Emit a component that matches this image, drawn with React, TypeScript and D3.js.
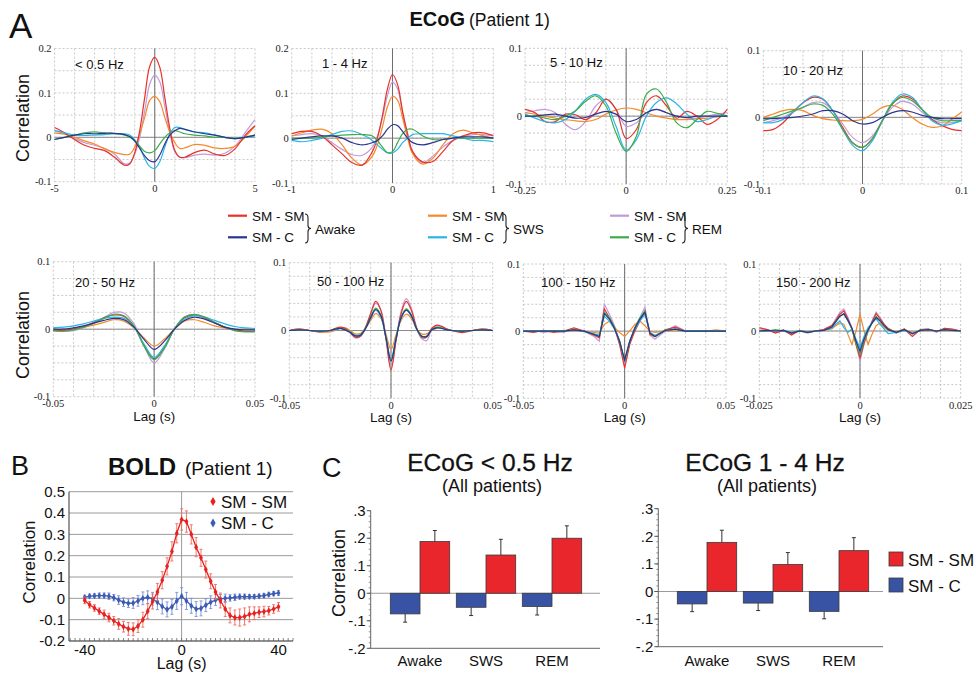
import React from 'react';
import * as d3 from 'd3';

const SANS = '"Liberation Sans", Arial, sans-serif';
const SERIF = '"Liberation Serif", "Times New Roman", serif';

// line colours for the six ECoG traces
const colAwakeSM = '#e8312b';
const colAwakeC = '#2b3590';
const colSwsSM = '#f58a2c';
const colSwsC = '#29b5e6';
const colRemSM = '#c29ad8';
const colRemC = '#3cad48';

// ---- ECoG cross-correlation, patient 1 ----
// < 0.5 Hz
const b0Lag = [-5, -4.5, -4, -3.5, -3, -2.5, -2, -1.5, -1.25, -1, -0.75, -0.5, -0.25, 0, 0.25, 0.5, 0.75, 1, 1.25, 1.5, 2, 2.5, 3, 3.5, 4, 4.5, 5];
const b0AwakeSM = [0.022, 0.01, -0.005, -0.018, -0.025, -0.03, -0.045, -0.063, -0.06, -0.035, 0.015, 0.09, 0.16, 0.18, 0.158, 0.09, 0.02, -0.03, -0.045, -0.045, -0.034, -0.029, -0.038, -0.041, -0.026, 0.004, 0.026];
const b0AwakeC = [-0.005, 0.0, 0.005, 0.008, 0.008, 0.009, 0.009, 0.006, 0.002, -0.008, -0.025, -0.042, -0.053, -0.055, -0.04, -0.015, 0.005, 0.015, 0.02, 0.018, 0.012, 0.008, 0.005, 0.0, -0.003, 0.0, 0.005];
const b0SwsSM = [0.01, 0.007, 0.0, -0.008, -0.015, -0.026, -0.034, -0.039, -0.038, -0.022, 0.008, 0.045, 0.083, 0.092, 0.08, 0.045, 0.012, -0.012, -0.025, -0.024, -0.016, -0.018, -0.024, -0.025, -0.02, 0.0, 0.025];
const b0SwsC = [0.015, 0.01, 0.005, 0.004, 0.005, 0.006, 0.008, 0.008, 0.005, -0.005, -0.022, -0.048, -0.066, -0.07, -0.055, -0.022, 0.008, 0.022, 0.022, 0.018, 0.012, 0.01, 0.005, 0.0, -0.003, 0.0, 0.003];
const b0RemSM = [0.015, 0.008, -0.003, -0.012, -0.018, -0.025, -0.038, -0.06, -0.058, -0.038, 0.0, 0.06, 0.12, 0.14, 0.125, 0.07, 0.01, -0.032, -0.045, -0.046, -0.04, -0.038, -0.04, -0.036, -0.02, 0.01, 0.04];
const b0RemC = [-0.005, 0.0, 0.005, 0.01, 0.012, 0.01, 0.008, 0.005, 0.0, -0.008, -0.02, -0.032, -0.035, -0.03, -0.015, 0.0, 0.01, 0.015, 0.012, 0.008, 0.005, 0.003, 0.0, 0.0, -0.003, 0.0, 0.005];

// 1 - 4 Hz
const b1Lag = [-1, -0.9, -0.8, -0.7, -0.6, -0.5, -0.4, -0.3, -0.2, -0.15, -0.1, -0.05, 0, 0.05, 0.1, 0.15, 0.2, 0.3, 0.4, 0.5, 0.6, 0.7, 0.8, 0.9, 1];
const b1AwakeSM = [0.01, 0.015, 0.015, 0.005, -0.015, -0.035, -0.055, -0.06, -0.03, 0.0, 0.05, 0.11, 0.142, 0.12, 0.06, 0.01, -0.03, -0.053, -0.052, -0.03, -0.005, 0.005, 0.012, 0.012, 0.006];
const b1AwakeC = [-0.003, 0.0, 0.003, 0.005, 0.005, 0.0, -0.01, -0.015, -0.01, -0.005, 0.005, 0.02, 0.03, 0.028, 0.015, 0.0, -0.01, -0.015, -0.01, -0.003, 0.0, 0.003, 0.003, 0.003, 0.0];
const b1SwsSM = [0.005, 0.012, 0.018, 0.02, 0.01, -0.015, -0.045, -0.06, -0.04, -0.015, 0.025, 0.07, 0.093, 0.085, 0.045, 0.0, -0.035, -0.058, -0.045, -0.015, 0.01, 0.018, 0.012, 0.005, 0.0];
const b1SwsC = [-0.005, -0.008, -0.005, 0.0, 0.008, 0.015, 0.016, 0.008, -0.005, -0.015, -0.025, -0.033, -0.033, -0.025, -0.01, 0.0, 0.008, 0.01, 0.01, 0.01, 0.005, 0.0, -0.005, -0.005, -0.008];
const b1RemSM = [0.005, 0.008, 0.01, 0.005, -0.01, -0.025, -0.037, -0.038, -0.02, 0.005, 0.045, 0.095, 0.125, 0.11, 0.055, 0.005, -0.03, -0.055, -0.04, -0.02, -0.005, 0.003, 0.008, 0.008, 0.005];
const b1RemC = [0.0, 0.0, 0.0, 0.002, 0.005, 0.007, 0.008, 0.008, 0.005, -0.005, -0.02, -0.032, -0.03, -0.01, 0.01, 0.02, 0.02, 0.005, -0.003, -0.003, 0.0, 0.0, 0.0, 0.0, 0.0];

// 5 - 10 Hz
const b2Lag = [-0.25, -0.225, -0.2, -0.175, -0.15, -0.125, -0.1, -0.075, -0.05, -0.025, 0, 0.025, 0.05, 0.075, 0.1, 0.125, 0.15, 0.175, 0.2, 0.225, 0.25];
const b2AwakeSM = [0.01, 0.005, -0.008, -0.008, 0.003, 0.002, -0.005, 0.005, 0.025, 0.01, -0.033, -0.02, 0.02, 0.03, 0.015, -0.003, 0.007, 0.0, -0.012, -0.005, 0.01];
const b2AwakeC = [0.0, 0.0, 0.002, 0.003, 0.0, -0.003, -0.002, 0.003, 0.007, 0.003, -0.008, -0.005, 0.005, 0.01, 0.005, 0.0, -0.002, 0.0, 0.0, 0.0, 0.0];
const b2SwsSM = [0.005, 0.003, 0.0, -0.003, -0.005, -0.007, -0.008, -0.005, 0.003, 0.009, 0.012, 0.01, 0.005, 0.0, -0.003, -0.005, -0.005, -0.004, -0.003, -0.001, 0.0];
const b2SwsC = [0.003, -0.003, -0.008, -0.01, -0.005, 0.008, 0.025, 0.032, 0.02, -0.015, -0.05, -0.035, 0.0, 0.02, 0.027, 0.018, 0.003, -0.008, -0.005, 0.0, 0.0];
const b2RemSM = [0.005, 0.008, 0.01, 0.005, -0.012, -0.02, -0.008, 0.015, 0.025, 0.01, -0.015, -0.01, 0.005, 0.01, 0.005, 0.0, -0.003, -0.003, 0.0, 0.003, 0.005];
const b2RemC = [0.0, 0.0, -0.003, -0.005, 0.0, 0.008, 0.022, 0.03, 0.015, -0.025, -0.052, -0.03, 0.032, 0.04, 0.02, -0.01, -0.017, -0.005, 0.007, 0.004, 0.0];

// 10 - 20 Hz
const b3Lag = [-0.1, -0.09, -0.08, -0.07, -0.06, -0.05, -0.04, -0.03, -0.02, -0.01, 0, 0.01, 0.02, 0.03, 0.04, 0.05, 0.06, 0.07, 0.08, 0.09, 0.1];
const b3AwakeSM = [-0.02, -0.018, -0.008, 0.008, 0.022, 0.03, 0.027, 0.01, -0.015, -0.038, -0.045, -0.032, -0.005, 0.02, 0.032, 0.028, 0.012, -0.003, -0.012, -0.018, -0.02];
const b3AwakeC = [-0.002, -0.002, -0.001, 0.0, 0.002, 0.005, 0.01, 0.01, 0.005, -0.005, -0.01, -0.008, 0.0, 0.007, 0.01, 0.008, 0.003, 0.0, -0.002, -0.002, -0.002];
const b3SwsSM = [0.0, 0.005, 0.01, 0.012, 0.01, 0.003, -0.002, -0.004, -0.005, -0.005, -0.003, 0.005, 0.015, 0.018, 0.012, 0.0, -0.01, -0.015, -0.013, -0.003, 0.008];
const b3SwsC = [-0.008, -0.008, -0.003, 0.008, 0.022, 0.032, 0.028, 0.01, -0.018, -0.042, -0.05, -0.035, -0.005, 0.022, 0.035, 0.03, 0.012, -0.005, -0.012, -0.01, -0.005];
const b3RemSM = [-0.008, -0.005, 0.0, 0.008, 0.015, 0.022, 0.022, 0.01, -0.01, -0.03, -0.038, -0.028, -0.005, 0.015, 0.024, 0.02, 0.008, -0.003, -0.008, -0.008, -0.005];
const b3RemC = [-0.005, 0.0, 0.005, 0.01, 0.015, 0.02, 0.018, 0.005, -0.018, -0.038, -0.045, -0.032, -0.005, 0.02, 0.03, 0.025, 0.012, 0.0, -0.005, -0.005, -0.005];

// 20 - 50 Hz
const b4Lag = [-0.05, -0.045, -0.04, -0.035, -0.03, -0.025, -0.02, -0.015, -0.01, -0.005, 0, 0.005, 0.01, 0.015, 0.02, 0.025, 0.03, 0.035, 0.04, 0.045, 0.05];
const b4AwakeSM = [-0.002, -0.002, 0.0, 0.004, 0.01, 0.017, 0.021, 0.019, 0.004, -0.024, -0.044, -0.027, 0.0, 0.017, 0.021, 0.017, 0.01, 0.003, -0.001, -0.003, -0.003];
const b4AwakeC = [0.0, 0.0, 0.002, 0.005, 0.009, 0.013, 0.016, 0.014, 0.003, -0.015, -0.03, -0.018, 0.0, 0.013, 0.018, 0.015, 0.009, 0.003, 0.0, -0.001, -0.001];
const b4SwsSM = [0.0, 0.0, 0.001, 0.003, 0.006, 0.01, 0.014, 0.012, 0.002, -0.013, -0.025, -0.015, 0.0, 0.012, 0.014, 0.01, 0.005, 0.002, 0.0, 0.0, 0.0];
const b4SwsC = [0.002, 0.003, 0.005, 0.008, 0.012, 0.016, 0.018, 0.016, 0.003, -0.022, -0.042, -0.025, 0.0, 0.015, 0.02, 0.018, 0.013, 0.008, 0.004, 0.002, 0.001];
const b4RemSM = [-0.002, -0.003, -0.002, 0.002, 0.008, 0.017, 0.025, 0.024, 0.008, -0.025, -0.05, -0.03, 0.0, 0.018, 0.022, 0.018, 0.01, 0.003, -0.002, -0.003, -0.003];
const b4RemC = [-0.002, -0.003, -0.001, 0.003, 0.009, 0.016, 0.022, 0.02, 0.005, -0.025, -0.045, -0.028, 0.0, 0.018, 0.022, 0.018, 0.01, 0.003, -0.002, -0.004, -0.004];

// 50 - 100 Hz
const b5Lag = [-0.05, -0.045, -0.04, -0.035, -0.03, -0.0275, -0.025, -0.0225, -0.02, -0.0175, -0.015, -0.0125, -0.01, -0.0075, -0.005, -0.0025, 0, 0.0025, 0.005, 0.0075, 0.01, 0.0125, 0.015, 0.0175, 0.02, 0.0225, 0.025, 0.0275, 0.03, 0.035, 0.04, 0.045, 0.05];
const b5AwakeSM = [0.0, 0.002, 0.0, -0.002, 0.0, 0.003, 0.005, 0.003, -0.003, -0.01, -0.008, 0.005, 0.025, 0.043, 0.03, -0.012, -0.058, -0.015, 0.025, 0.043, 0.03, 0.005, -0.01, -0.01, 0.003, 0.008, 0.006, 0.002, 0.0, -0.003, 0.0, 0.002, 0.0];
const b5AwakeC = [0.0, 0.001, 0.0, -0.001, 0.0, 0.002, 0.003, 0.001, -0.003, -0.008, -0.007, 0.003, 0.019, 0.031, 0.022, -0.01, -0.045, -0.012, 0.019, 0.03, 0.022, 0.003, -0.008, -0.009, 0.001, 0.004, 0.003, 0.001, 0.0, -0.001, 0.0, 0.001, 0.0];
const b5SwsSM = [0.0, 0.002, 0.0, -0.002, -0.002, 0.0, 0.003, 0.004, 0.0, -0.005, -0.004, 0.003, 0.015, 0.025, 0.018, -0.005, -0.028, -0.006, 0.015, 0.024, 0.018, 0.003, -0.005, -0.005, 0.0, 0.003, 0.004, 0.002, 0.0, -0.002, 0.0, 0.002, 0.0];
const b5SwsC = [0.0, 0.001, 0.0, -0.001, 0.0, 0.001, 0.003, 0.001, -0.002, -0.007, -0.006, 0.003, 0.018, 0.03, 0.02, -0.01, -0.042, -0.011, 0.018, 0.03, 0.021, 0.003, -0.008, -0.008, 0.001, 0.004, 0.003, 0.001, 0.0, -0.001, 0.0, 0.001, 0.0];
const b5RemSM = [0.0, 0.002, 0.0, -0.002, 0.0, 0.002, 0.004, 0.002, -0.004, -0.011, -0.009, 0.004, 0.024, 0.04, 0.03, -0.01, -0.055, -0.012, 0.028, 0.047, 0.033, 0.005, -0.012, -0.015, 0.001, 0.007, 0.005, 0.002, 0.0, -0.002, 0.0, 0.002, 0.0];
const b5RemC = [0.0, 0.001, 0.0, -0.001, 0.0, 0.002, 0.003, 0.001, -0.003, -0.008, -0.007, 0.004, 0.02, 0.033, 0.023, -0.01, -0.045, -0.012, 0.02, 0.032, 0.023, 0.003, -0.009, -0.009, 0.001, 0.005, 0.004, 0.001, 0.0, -0.001, 0.0, 0.001, 0.0];

// 100 - 150 Hz
const b6Lag = [-0.05, -0.045, -0.04, -0.035, -0.03, -0.025, -0.02, -0.015, -0.0125, -0.01, -0.0075, -0.005, -0.0025, 0, 0.0025, 0.005, 0.0075, 0.01, 0.0125, 0.015, 0.02, 0.025, 0.03, 0.035, 0.04, 0.045, 0.05];
const b6AwakeSM = [0.0, -0.002, 0.001, -0.002, 0.0, 0.005, 0.0, -0.006, -0.01, 0.033, 0.02, 0.005, -0.02, -0.055, -0.02, 0.0, 0.015, 0.03, -0.005, -0.008, 0.002, 0.006, 0.0, 0.0, 0.001, 0.0, 0.0];
const b6AwakeC = [0.0, 0.0, 0.0, 0.0, 0.0, 0.002, 0.0, -0.005, -0.008, 0.026, 0.018, 0.004, -0.015, -0.043, -0.015, 0.004, 0.018, 0.028, -0.003, -0.008, 0.001, 0.003, 0.0, 0.0, 0.0, 0.0, 0.0];
const b6SwsSM = [0.0, 0.0, 0.0, 0.0, 0.0, 0.001, 0.0, -0.002, -0.003, 0.01, 0.015, 0.005, -0.002, -0.008, 0.0, 0.01, 0.015, 0.008, 0.0, -0.002, 0.0, 0.002, 0.0, 0.0, 0.0, 0.002, 0.0];
const b6SwsC = [0.0, 0.0, 0.0, 0.0, 0.0, 0.002, 0.0, -0.004, -0.006, 0.022, 0.015, 0.003, -0.015, -0.045, -0.015, 0.003, 0.015, 0.025, -0.002, -0.006, 0.001, 0.003, 0.0, 0.0, 0.0, 0.0, 0.0];
const b6RemSM = [0.0, 0.001, -0.002, 0.0, -0.002, 0.004, 0.0, -0.008, -0.015, 0.04, 0.025, 0.008, -0.015, -0.05, -0.018, 0.005, 0.02, 0.036, -0.006, -0.012, 0.0, 0.008, 0.0, 0.001, 0.0, 0.001, 0.0];
const b6RemC = [0.0, 0.0, 0.0, 0.001, 0.0, 0.002, 0.0, -0.005, -0.008, 0.028, 0.02, 0.005, -0.015, -0.045, -0.015, 0.005, 0.02, 0.03, -0.003, -0.008, 0.002, 0.003, 0.0, 0.0, 0.0, 0.0, 0.0];

// 150 - 200 Hz
const b7Lag = [-0.025, -0.023, -0.021, -0.019, -0.017, -0.015, -0.013, -0.011, -0.009, -0.007, -0.006, -0.005, -0.004, -0.003, -0.002, -0.001, 0, 0.001, 0.002, 0.003, 0.004, 0.005, 0.006, 0.007, 0.009, 0.011, 0.013, 0.015, 0.017, 0.019, 0.021, 0.023, 0.025];
const b7AwakeSM = [0.005, 0.002, -0.003, 0.001, -0.006, 0.001, -0.002, 0.0, 0.002, 0.008, 0.016, 0.025, 0.03, 0.018, 0.003, -0.02, -0.04, -0.018, 0.0, 0.014, 0.026, 0.018, 0.01, 0.004, -0.003, 0.003, -0.008, 0.002, 0.003, -0.001, 0.004, 0.003, 0.0];
const b7AwakeC = [0.0, 0.001, 0.0, 0.001, -0.003, 0.0, -0.002, 0.0, 0.001, 0.006, 0.014, 0.022, 0.026, 0.016, 0.004, -0.015, -0.03, -0.012, 0.002, 0.012, 0.02, 0.015, 0.008, 0.002, -0.002, 0.002, -0.004, 0.001, 0.002, 0.0, 0.002, 0.001, 0.0];
const b7SwsSM = [0.0, 0.0, 0.001, 0.0, -0.002, 0.0, -0.001, 0.0, 0.001, 0.003, 0.008, 0.012, 0.01, -0.005, -0.02, 0.0, 0.025, 0.0, -0.02, -0.005, 0.008, 0.012, 0.006, 0.001, -0.001, 0.002, -0.002, 0.0, 0.001, 0.0, 0.001, 0.0, 0.0];
const b7SwsC = [0.0, 0.001, 0.0, 0.001, -0.002, 0.0, -0.002, 0.0, 0.001, 0.004, 0.01, 0.015, 0.005, -0.002, 0.003, -0.012, -0.025, -0.008, 0.005, 0.012, 0.018, 0.01, 0.003, -0.004, -0.002, 0.001, -0.003, 0.001, 0.002, 0.0, 0.001, 0.001, 0.0];
const b7RemSM = [0.003, 0.002, -0.002, 0.002, -0.005, 0.0, -0.003, 0.0, 0.002, 0.008, 0.018, 0.028, 0.033, 0.02, 0.005, -0.02, -0.045, -0.02, 0.0, 0.015, 0.028, 0.02, 0.01, 0.003, -0.002, 0.003, -0.005, 0.002, 0.003, -0.002, 0.004, 0.002, 0.0];
const b7RemC = [0.0, 0.0, 0.002, 0.0, -0.003, 0.001, -0.002, 0.0, 0.001, 0.006, 0.014, 0.022, 0.025, 0.015, 0.003, -0.018, -0.035, -0.015, 0.0, 0.012, 0.022, 0.015, 0.008, 0.003, -0.002, 0.002, -0.004, 0.001, 0.002, 0.0, 0.002, 0.001, 0.0];

const yTicksTall = [-0.1, 0, 0.1, 0.2];
const yTicksShort = [-0.1, 0, 0.1];

// ---- BOLD, patient 1 ----
const boldLag = [-40, -38, -36, -34, -32, -30, -28, -26, -24, -22, -20, -18, -16, -14, -12, -10, -8, -6, -4, -2, 0, 2, 4, 6, 8, 10, 12, 14, 16, 18, 20, 22, 24, 26, 28, 30, 32, 34, 36, 38, 40];
const boldSmSm = [-0.01, -0.03, -0.045, -0.06, -0.075, -0.09, -0.105, -0.12, -0.133, -0.143, -0.145, -0.13, -0.1, -0.06, -0.015, 0.03, 0.085, 0.15, 0.22, 0.305, 0.37, 0.36, 0.3, 0.24, 0.19, 0.135, 0.08, 0.03, -0.01, -0.05, -0.08, -0.09, -0.09, -0.085, -0.075, -0.07, -0.065, -0.062, -0.058, -0.05, -0.04];
const boldSmSmErr = [0.015, 0.015, 0.015, 0.015, 0.02, 0.02, 0.02, 0.025, 0.025, 0.03, 0.03, 0.03, 0.035, 0.035, 0.035, 0.04, 0.04, 0.04, 0.045, 0.045, 0.05, 0.05, 0.045, 0.045, 0.04, 0.04, 0.035, 0.035, 0.035, 0.035, 0.035, 0.035, 0.04, 0.04, 0.035, 0.03, 0.025, 0.025, 0.02, 0.02, 0.02];
const boldSmC = [0.005, 0.01, 0.012, 0.013, 0.013, 0.01, 0.003, -0.008, -0.018, -0.023, -0.022, -0.012, 0.0, 0.005, -0.002, -0.018, -0.038, -0.052, -0.04, -0.012, 0.01, -0.012, -0.035, -0.05, -0.047, -0.032, -0.018, -0.008, -0.002, 0.0, 0.002, 0.005, 0.008, 0.008, 0.008, 0.008, 0.01, 0.013, 0.018, 0.022, 0.025];
const boldSmCErr = [0.01, 0.01, 0.01, 0.012, 0.012, 0.015, 0.015, 0.02, 0.02, 0.02, 0.025, 0.025, 0.03, 0.03, 0.03, 0.035, 0.035, 0.035, 0.035, 0.04, 0.04, 0.04, 0.035, 0.035, 0.035, 0.03, 0.03, 0.025, 0.02, 0.02, 0.015, 0.015, 0.012, 0.012, 0.01, 0.01, 0.01, 0.01, 0.01, 0.01, 0.012];
const boldYTicks = [-0.2, -0.1, 0, 0.1, 0.2, 0.3, 0.4, 0.5];
const boldXTicks = [-40, 0, 40];

// ---- ECoG bar charts, all patients ----
const states = ['Awake', 'SWS', 'REM'];
const deltaSmC = [-0.075, -0.051, -0.048];
const deltaSmCErr = [0.03, 0.03, 0.031];
const deltaSmSm = [0.188, 0.139, 0.2];
const deltaSmSmErr = [0.04, 0.057, 0.045];
const lowSmC = [-0.045, -0.042, -0.072];
const lowSmCErr = [0.028, 0.027, 0.027];
const lowSmSm = [0.178, 0.098, 0.148];
const lowSmSmErr = [0.044, 0.043, 0.047];
const barTicks = [-0.2, -0.1, 0, 0.1, 0.2, 0.3];

const fmtBar = (v: number) => (v === 0 ? '0' : (v < 0 ? '-' : '') + '.' + Math.round(Math.abs(v) * 10));

type Series = { color: string; values: number[] };
type Panel = {
  label: string; lx: number; ly: number;
  left: number; right: number; top: number; bottom: number;
  xDomain: [number, number]; yDomain: [number, number]; yDiv: number;
  yTicks: number[]; lags: number[]; series: Series[]; curve: any; lagTitle: boolean;
};

const mk = (aSM: number[], aC: number[], sSM: number[], sC: number[], rSM: number[], rC: number[]): Series[] => [
  { color: colRemSM, values: rSM },
  { color: colSwsSM, values: sSM },
  { color: colAwakeSM, values: aSM },
  { color: colSwsC, values: sC },
  { color: colRemC, values: rC },
  { color: colAwakeC, values: aC },
];

const panels: Panel[] = [
  { label: '< 0.5 Hz', lx: 75, ly: 69, left: 54.5, right: 255, top: 48.5, bottom: 181.7, xDomain: [-5, 5], yDomain: [-0.1, 0.2], yDiv: 6, yTicks: yTicksTall, lags: b0Lag, series: mk(b0AwakeSM, b0AwakeC, b0SwsSM, b0SwsC, b0RemSM, b0RemC), curve: d3.curveCatmullRom, lagTitle: false },
  { label: '1 - 4 Hz', lx: 322, ly: 68, left: 291.7, right: 493.3, top: 48.5, bottom: 183, xDomain: [-1, 1], yDomain: [-0.1, 0.2], yDiv: 6, yTicks: yTicksTall, lags: b1Lag, series: mk(b1AwakeSM, b1AwakeC, b1SwsSM, b1SwsC, b1RemSM, b1RemC), curve: d3.curveCatmullRom, lagTitle: false },
  { label: '5 - 10 Hz', lx: 550, ly: 67, left: 525, right: 727.3, top: 48.3, bottom: 184, xDomain: [-0.25, 0.25], yDomain: [-0.1, 0.1], yDiv: 8, yTicks: yTicksShort, lags: b2Lag, series: mk(b2AwakeSM, b2AwakeC, b2SwsSM, b2SwsC, b2RemSM, b2RemC), curve: d3.curveCatmullRom, lagTitle: false },
  { label: '10 - 20 Hz', lx: 783, ly: 75, left: 763.3, right: 961.7, top: 50.7, bottom: 184, xDomain: [-0.1, 0.1], yDomain: [-0.1, 0.1], yDiv: 8, yTicks: yTicksShort, lags: b3Lag, series: mk(b3AwakeSM, b3AwakeC, b3SwsSM, b3SwsC, b3RemSM, b3RemC), curve: d3.curveCatmullRom, lagTitle: false },
  { label: '20 - 50 Hz', lx: 75, ly: 287, left: 53.3, right: 255, top: 261.7, bottom: 396.7, xDomain: [-0.05, 0.05], yDomain: [-0.1, 0.1], yDiv: 8, yTicks: yTicksShort, lags: b4Lag, series: mk(b4AwakeSM, b4AwakeC, b4SwsSM, b4SwsC, b4RemSM, b4RemC), curve: d3.curveCatmullRom, lagTitle: true },
  { label: '50 - 100 Hz', lx: 317, ly: 286, left: 289.3, right: 492.7, top: 262.7, bottom: 398.3, xDomain: [-0.05, 0.05], yDomain: [-0.1, 0.1], yDiv: 10, yTicks: yTicksShort, lags: b5Lag, series: mk(b5AwakeSM, b5AwakeC, b5SwsSM, b5SwsC, b5RemSM, b5RemC), curve: d3.curveCatmullRom, lagTitle: true },
  { label: '100 - 150 Hz', lx: 541, ly: 287, left: 523.3, right: 726, top: 264, bottom: 398.3, xDomain: [-0.05, 0.05], yDomain: [-0.1, 0.1], yDiv: 10, yTicks: yTicksShort, lags: b6Lag, series: mk(b6AwakeSM, b6AwakeC, b6SwsSM, b6SwsC, b6RemSM, b6RemC), curve: d3.curveLinear, lagTitle: true },
  { label: '150 - 200 Hz', lx: 776, ly: 287, left: 759.3, right: 960.7, top: 264, bottom: 398, xDomain: [-0.025, 0.025], yDomain: [-0.1, 0.1], yDiv: 10, yTicks: yTicksShort, lags: b7Lag, series: mk(b7AwakeSM, b7AwakeC, b7SwsSM, b7SwsC, b7RemSM, b7RemC), curve: d3.curveLinear, lagTitle: true },
];

const LinePanel = ({ p }: { p: Panel }) => {
  const x = d3.scaleLinear().domain(p.xDomain).range([p.left, p.right]);
  const y = d3.scaleLinear().domain(p.yDomain).range([p.bottom, p.top]);
  const [x0, x1] = p.xDomain;
  const [y0, y1] = p.yDomain;
  const gx = d3.range(11).map((i) => x0 + (i * (x1 - x0)) / 10);
  const gy = d3.range(p.yDiv + 1).map((i) => y0 + (i * (y1 - y0)) / p.yDiv);
  const line = d3.line<number>().x((_, i) => x(p.lags[i])).y((d) => y(d)).curve(p.curve);
  const xTicks = [x0, 0, x1];
  const tickY = p.bottom + (p.lagTitle ? 10.5 : 10);
  return (
    <g>
      {gx.map((v, i) => (
        <line key={'gx' + i} x1={x(v)} x2={x(v)} y1={p.top} y2={p.bottom} stroke="#bdbdbd" strokeWidth={0.8} strokeDasharray="2,2" />
      ))}
      {gy.map((v, i) => (
        <line key={'gy' + i} x1={p.left} x2={p.right} y1={y(v)} y2={y(v)} stroke="#bdbdbd" strokeWidth={0.8} strokeDasharray="2,2" />
      ))}
      <line x1={p.left} x2={p.right} y1={y(0)} y2={y(0)} stroke="#8a8a8a" strokeWidth={1} />
      <line x1={x(0)} x2={x(0)} y1={p.top} y2={p.bottom} stroke="#6e6e6e" strokeWidth={1} />
      {p.series.map((s, i) => (
        <path key={i} d={line(s.values) || ''} fill="none" stroke={s.color} strokeWidth={1.2} />
      ))}
      {p.yTicks.map((v) => (
        <text key={'yt' + v} x={p.left - 3} y={y(v)} dy="0.35em" textAnchor="end" fontFamily={SERIF} fontSize={10.5} fill="#222">{String(v)}</text>
      ))}
      {xTicks.map((v) => (
        <text key={'xt' + v} x={x(v)} y={tickY} textAnchor="middle" fontFamily={SERIF} fontSize={10.5} fill="#222">{String(v)}</text>
      ))}
      {p.lagTitle && (
        <text x={(p.left + p.right) / 2} y={p.bottom + 24} textAnchor="middle" fontFamily={SANS} fontSize={13.5} fill="#111">Lag (s)</text>
      )}
      <text x={p.lx} y={p.ly} fontFamily={SANS} fontSize={13} fill="#111">{p.label}</text>
    </g>
  );
};

const legendGroups = [
  { name: 'Awake', x: 228, brace: 305, sm: colAwakeSM, c: colAwakeC },
  { name: 'SWS', x: 428, brace: 503, sm: colSwsSM, c: colSwsC },
  { name: 'REM', x: 610, brace: 682, sm: colRemSM, c: colRemC },
];

const Brace = ({ x, top, bot }: { x: number; top: number; bot: number }) => {
  const mid = (top + bot) / 2;
  const d = `M${x},${top} Q${x + 3},${top} ${x + 3},${top + 4} L${x + 3},${mid - 3} Q${x + 3},${mid} ${x + 6},${mid} Q${x + 3},${mid} ${x + 3},${mid + 3} L${x + 3},${bot - 4} Q${x + 3},${bot} ${x},${bot}`;
  return <path d={d} fill="none" stroke="#222" strokeWidth={1.1} />;
};

const BoldPanel = () => {
  const x = d3.scaleLinear().domain([-46.5, 46]).range([69, 293]);
  const y = d3.scaleLinear().domain([-0.2, 0.5]).range([641, 491.7]);
  const line = d3.line<number>().x((_, i) => x(boldLag[i])).y((d) => y(d));
  const diamond = d3.symbol().type(d3.symbolDiamond).size(13)() || '';
  const legendDiamond = d3.symbol().type(d3.symbolDiamond).size(24)() || '';
  const minor = d3.range(-46, 47, 2);
  const draw = (vals: number[], errs: number[], col: string, errCol: string, key: string) => (
    <g key={key}>
      {vals.map((v, i) => (
        <g key={i} stroke={errCol} strokeWidth={0.9}>
          <line x1={x(boldLag[i])} x2={x(boldLag[i])} y1={y(v - errs[i])} y2={y(v + errs[i])} />
          <line x1={x(boldLag[i]) - 1.5} x2={x(boldLag[i]) + 1.5} y1={y(v - errs[i])} y2={y(v - errs[i])} />
          <line x1={x(boldLag[i]) - 1.5} x2={x(boldLag[i]) + 1.5} y1={y(v + errs[i])} y2={y(v + errs[i])} />
        </g>
      ))}
      <path d={line(vals) || ''} fill="none" stroke={col} strokeWidth={1.3} />
      {vals.map((v, i) => (
        <path key={'m' + i} d={diamond} transform={`translate(${x(boldLag[i])},${y(v)})`} fill={col} />
      ))}
    </g>
  );
  return (
    <g>
      {boldYTicks.map((v) => (
        <line key={'g' + v} x1={69} x2={293} y1={y(v)} y2={y(v)} stroke="#9a9a9a" strokeWidth={1} />
      ))}
      <line x1={x(0)} x2={x(0)} y1={y(0.5)} y2={y(-0.2)} stroke="#9a9a9a" strokeWidth={1} />
      {minor.map((v) => (
        <line key={'mt' + v} x1={x(v)} x2={x(v)} y1={641} y2={638} stroke="#666" strokeWidth={0.8} />
      ))}
      <line x1={69} x2={69} y1={491.7} y2={641} stroke="#555" strokeWidth={1.2} />
      <line x1={69} x2={293} y1={641} y2={641} stroke="#555" strokeWidth={1.2} />
      {draw(boldSmC, boldSmCErr, '#3b5bb5', '#7b8fd6', 'c')}
      {draw(boldSmSm, boldSmSmErr, '#e8211f', '#f06a60', 'sm')}
      {boldYTicks.map((v) => (
        <text key={'yt' + v} x={65} y={y(v)} dy="0.35em" textAnchor="end" fontFamily={SANS} fontSize={15} fill="#111">{String(v)}</text>
      ))}
      {boldXTicks.map((v) => (
        <text key={'xt' + v} x={x(v)} y={655} textAnchor="middle" fontFamily={SANS} fontSize={15} fill="#111">{String(v)}</text>
      ))}
      <text x={x(0)} y={669} textAnchor="middle" fontFamily={SANS} fontSize={16} fill="#111">Lag (s)</text>
      <text transform="translate(35,562) rotate(-90)" textAnchor="middle" fontFamily={SANS} fontSize={17} fill="#111">Correlation</text>
      <path d={legendDiamond} transform="translate(213,501.5)" fill="#e8211f" />
      <text x={221} y={507.5} fontFamily={SANS} fontSize={17} fill="#111">SM - SM</text>
      <path d={legendDiamond} transform="translate(213,523)" fill="#3b5bb5" />
      <text x={221} y={529} fontFamily={SANS} fontSize={17} fill="#111">SM - C</text>
    </g>
  );
};

type BarCfg = {
  title: string; cx: number; axisX: number; right: number; bandStart: number; yTop: number; yBot: number;
  smC: number[]; smCErr: number[]; smSm: number[]; smSmErr: number[]; yLabel: boolean;
};

const BarPanel = ({ c }: { c: BarCfg }) => {
  const y = d3.scaleLinear().domain([-0.2, 0.3]).range([c.yBot, c.yTop]);
  const x0 = d3.scaleBand<string>().domain(states).range([c.bandStart, c.bandStart + 198]).paddingInner(0.1).paddingOuter(0.05);
  const x1 = d3.scaleBand<string>().domain(['c', 'sm']).range([0, x0.bandwidth()]);
  const groups = [
    { key: 'c', vals: c.smC, errs: c.smCErr, fill: '#3953a4' },
    { key: 'sm', vals: c.smSm, errs: c.smSmErr, fill: '#e8262b' },
  ];
  const minor = y.ticks(25);
  return (
    <g>
      <text x={c.cx} y={471} textAnchor="middle" fontFamily={SANS} fontSize={24.5} fill="#111" stroke="#111" strokeWidth={0.3}>{c.title}</text>
      <text x={c.cx + 2} y={492} textAnchor="middle" fontFamily={SANS} fontSize={18} fill="#111">(All patients)</text>
      <line x1={c.axisX} x2={c.right} y1={y(0)} y2={y(0)} stroke="#9a9a9a" strokeWidth={1.2} />
      {states.map((s, si) =>
        groups.map((g) => {
          const v = g.vals[si];
          const e = g.errs[si];
          const bx = (x0(s) || 0) + (x1(g.key) || 0);
          const w = x1.bandwidth();
          const tip = v >= 0 ? v + e : v - e;
          return (
            <g key={s + g.key}>
              <line x1={bx + w / 2} x2={bx + w / 2} y1={y(v)} y2={y(tip)} stroke="#333" strokeWidth={1} />
              <line x1={bx + w / 2 - 2} x2={bx + w / 2 + 2} y1={y(tip)} y2={y(tip)} stroke="#333" strokeWidth={1} />
              <rect x={bx} width={w} y={Math.min(y(v), y(0))} height={Math.abs(y(v) - y(0))} fill={g.fill} stroke="#3a3a3a" strokeWidth={0.8} />
            </g>
          );
        })
      )}
      {minor.map((v) => (
        <line key={'mt' + v} x1={c.axisX - 2} x2={c.axisX} y1={y(v)} y2={y(v)} stroke="#777" strokeWidth={0.8} />
      ))}
      {barTicks.map((v) => (
        <g key={'t' + v}>
          <line x1={c.axisX - 4} x2={c.axisX} y1={y(v)} y2={y(v)} stroke="#555" strokeWidth={1} />
          <text x={c.axisX - 5} y={y(v)} dy="0.35em" textAnchor="end" fontFamily={SANS} fontSize={15} fill="#111">{fmtBar(v)}</text>
        </g>
      ))}
      <line x1={c.axisX} x2={c.axisX} y1={y(0.3)} y2={y(-0.2)} stroke="#666" strokeWidth={1} />
      <line x1={c.axisX} x2={c.right} y1={y(-0.2)} y2={y(-0.2)} stroke="#666" strokeWidth={1} />
      {states.map((s) => (
        <text key={'l' + s} x={(x0(s) || 0) + x0.bandwidth() / 2} y={666} textAnchor="middle" fontFamily={SANS} fontSize={15} fill="#111">{s}</text>
      ))}
      {c.yLabel && (
        <text transform="translate(345,573) rotate(-90)" textAnchor="middle" fontFamily={SANS} fontSize={18} fill="#111">Correlation</text>
      )}
    </g>
  );
};

const barCfgs: BarCfg[] = [
  { title: 'ECoG < 0.5 Hz', cx: 490, axisX: 370.7, right: 600, bandStart: 387, yTop: 510.7, yBot: 648.3, smC: deltaSmC, smCErr: deltaSmCErr, smSm: deltaSmSm, smSmErr: deltaSmSmErr, yLabel: true },
  { title: 'ECoG 1 - 4 Hz', cx: 765, axisX: 658.3, right: 883, bandStart: 674, yTop: 508.7, yBot: 646.7, smC: lowSmC, smCErr: lowSmCErr, smSm: lowSmSm, smSmErr: lowSmSmErr, yLabel: false },
];

export default function App() {
  return (
    <svg width={976} height={673} viewBox="0 0 976 673" style={{ position: 'absolute', left: 0, top: 0, background: '#fff' }}>
      <rect width={976} height={673} fill="#fff" />
      {/* Panel A */}
      <text x={9} y={38} fontFamily={SANS} fontSize={35} fill="#111">A</text>
      <text x={465} y={26} textAnchor="end" fontFamily={SANS} fontSize={20} fontWeight="bold" fill="#111">ECoG</text>
      <text x={469} y={26} fontFamily={SANS} fontSize={17.5} fill="#111">(Patient 1)</text>
      <text transform="translate(29,118) rotate(-90)" textAnchor="middle" fontFamily={SANS} fontSize={18} fill="#111">Correlation</text>
      <text transform="translate(29,335) rotate(-90)" textAnchor="middle" fontFamily={SANS} fontSize={18} fill="#111">Correlation</text>
      {panels.map((p, i) => (
        <LinePanel key={i} p={p} />
      ))}
      {legendGroups.map((g) => (
        <g key={g.name}>
          <line x1={g.x} x2={g.x + 19} y1={215.7} y2={215.7} stroke={g.sm} strokeWidth={2.2} />
          <line x1={g.x} x2={g.x + 19} y1={237.3} y2={237.3} stroke={g.c} strokeWidth={2.2} />
          <text x={g.x + 24} y={220.5} fontFamily={SANS} fontSize={13.5} fill="#111">SM - SM</text>
          <text x={g.x + 24} y={242} fontFamily={SANS} fontSize={13.5} fill="#111">SM - C</text>
          <Brace x={g.brace} top={214} bot={243} />
          <text x={g.brace + 10} y={233.5} fontFamily={SANS} fontSize={13.5} fill="#111">{g.name}</text>
        </g>
      ))}
      {/* Panel B */}
      <text x={11} y={475} fontFamily={SANS} fontSize={27} fill="#111">B</text>
      <text x={108} y={475} fontFamily={SANS} fontSize={24} fontWeight="bold" fill="#111">BOLD</text>
      <text x={185} y={475} fontFamily={SANS} fontSize={19} fill="#111">(Patient 1)</text>
      <BoldPanel />
      {/* Panel C */}
      <text x={322} y={477} fontFamily={SANS} fontSize={27} fill="#111">C</text>
      {barCfgs.map((c, i) => (
        <BarPanel key={i} c={c} />
      ))}
      <rect x={889} y={552} width={14} height={14} fill="#e8262b" stroke="#3a3a3a" strokeWidth={0.8} />
      <text x={908} y={565.5} fontFamily={SANS} fontSize={17} fill="#111">SM - SM</text>
      <rect x={889} y={578} width={14} height={14} fill="#3953a4" stroke="#3a3a3a" strokeWidth={0.8} />
      <text x={908} y={591.5} fontFamily={SANS} fontSize={17} fill="#111">SM - C</text>
    </svg>
  );
}
